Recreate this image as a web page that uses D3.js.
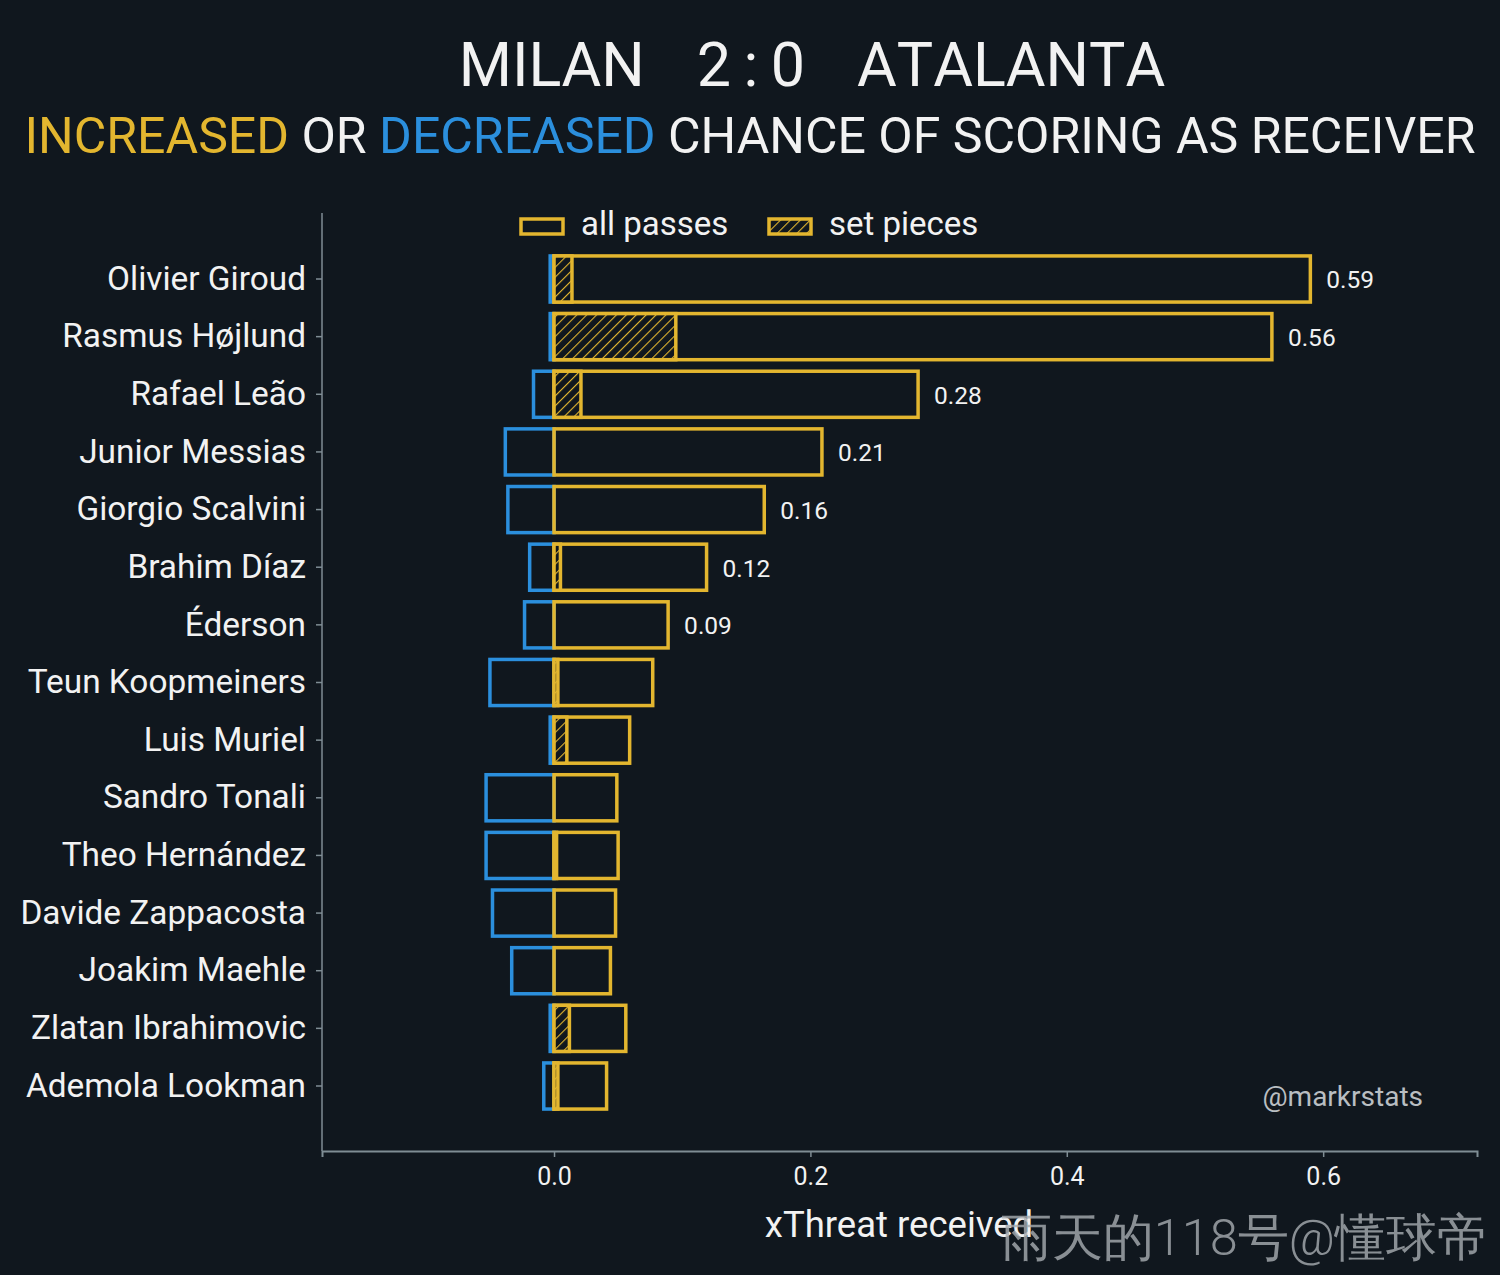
<!DOCTYPE html>
<html>
<head>
<meta charset="utf-8">
<script src="https://cdn.jsdelivr.net/npm/d3@7"></script>
<style>
  html, body { margin: 0; padding: 0; background: #10171e; }
  svg { display: block; }
  text { font-family: Roboto, "Noto Sans", sans-serif; }
</style>
</head>
<body>
<svg id="chart" width="1500" height="1275"></svg>
<script>
// ---------- data ----------
const players = [
  "Olivier Giroud", "Rasmus Højlund", "Rafael Leão", "Junior Messias",
  "Giorgio Scalvini", "Brahim Díaz", "Éderson", "Teun Koopmeiners",
  "Luis Muriel", "Sandro Tonali", "Theo Hernández", "Davide Zappacosta",
  "Joakim Maehle", "Zlatan Ibrahimovic", "Ademola Lookman"
];
const increased = [0.590, 0.560, 0.284, 0.209, 0.164, 0.119, 0.089, 0.077,
                   0.059, 0.049, 0.050, 0.048, 0.044, 0.056, 0.041];
const decreased = [-0.003, -0.003, -0.016, -0.038, -0.036, -0.019, -0.023, -0.050,
                   -0.003, -0.053, -0.053, -0.048, -0.033, -0.003, -0.008];
const setPieces = [0.014, 0.095, 0.021, 0.000, 0.000, 0.005, 0.000, 0.003,
                   0.010, 0.000, 0.002, 0.000, 0.000, 0.012, 0.003];
const xTicks = [0.0, 0.2, 0.4, 0.6];
const labelThreshold = 0.08;

// ---------- style ----------
const BG = "#10171e";
const GOLD = "#e3b62f";
const BLUE = "#2b8fdd";
const AXIS = "#7f8d94";
const WHITE = "#f2f2f2";

const svg = d3.select("#chart");
svg.append("rect").attr("width", 1500).attr("height", 1275).attr("fill", BG);

// hatch pattern
const defs = svg.append("defs");
const pat = defs.append("pattern")
  .attr("id", "hatch").attr("patternUnits", "userSpaceOnUse")
  .attr("width", 7).attr("height", 7)
  .attr("patternTransform", "rotate(45)");
pat.append("rect").attr("width", 7).attr("height", 7).attr("fill", BG);
pat.append("line").attr("x1", 0).attr("y1", 0).attr("x2", 0).attr("y2", 7)
  .attr("stroke", GOLD).attr("stroke-width", 2.2);

// ---------- scales ----------
const x = d3.scaleLinear().domain([-0.181, 0.72]).range([322, 1477]);
const step = (1086 - 279) / (players.length - 1);
const y = d3.scaleBand().domain(players)
  .range([279 - step / 2, 1086 + step / 2]).paddingInner(0.2).paddingOuter(0.1);

const rows = players.map((p, i) => ({
  name: p, pos: increased[i], neg: decreased[i], sp: setPieces[i]
}));

// ---------- axes ----------
const gy = svg.append("g").attr("transform", "translate(322,0)")
  .call(d3.axisLeft(y).tickSize(6).tickPadding(10));
gy.select(".domain").remove();
gy.selectAll(".tick line").attr("stroke", AXIS).attr("stroke-width", 1.5);
gy.selectAll(".tick text").attr("fill", WHITE).attr("font-size", 33.4)
  .attr("font-family", "Roboto").attr("dy", "0.32em");
svg.append("line").attr("x1", 322).attr("x2", 322).attr("y1", 213).attr("y2", 1151)
  .attr("stroke", AXIS).attr("stroke-width", 1.5);

const gx = svg.append("g").attr("transform", "translate(0,1151)")
  .call(d3.axisBottom(x).tickValues(xTicks).tickFormat(d3.format(".1f"))
    .tickSize(6).tickPadding(10));
gx.select(".domain").attr("stroke", AXIS).attr("stroke-width", 2);
gx.selectAll(".tick line").attr("stroke", AXIS).attr("stroke-width", 1.5);
gx.selectAll(".tick text").attr("fill", WHITE).attr("font-size", 25)
  .attr("font-family", "Roboto");

// ---------- bars ----------
const SW = 3.5;
const bars = svg.append("g");
// decreased (blue)
bars.selectAll("rect.neg").data(rows).join("rect").attr("class", "neg")
  .attr("x", d => x(d.neg)).attr("width", d => x(0) - x(d.neg))
  .attr("y", d => y(d.name)).attr("height", y.bandwidth())
  .attr("fill", "none").attr("stroke", BLUE).attr("stroke-width", SW);
// increased (gold)
bars.selectAll("rect.pos").data(rows).join("rect").attr("class", "pos")
  .attr("x", x(0)).attr("width", d => x(d.pos) - x(0))
  .attr("y", d => y(d.name)).attr("height", y.bandwidth())
  .attr("fill", "none").attr("stroke", GOLD).attr("stroke-width", SW);
// set pieces (hatched)
bars.selectAll("rect.sp").data(rows.filter(d => d.sp > 0)).join("rect").attr("class", "sp")
  .attr("x", x(0)).attr("width", d => x(d.sp) - x(0))
  .attr("y", d => y(d.name)).attr("height", y.bandwidth())
  .attr("fill", "url(#hatch)").attr("stroke", GOLD).attr("stroke-width", SW);

// value labels
svg.append("g").selectAll("text").data(rows.filter(d => d.pos >= labelThreshold)).join("text")
  .attr("x", d => x(d.pos) + 16).attr("y", d => y(d.name) + y.bandwidth() / 2)
  .attr("dy", "0.38em").attr("fill", WHITE).attr("font-size", 24.5)
  .text(d => d3.format(".2f")(d.pos));

// ---------- legend ----------
const lg = svg.append("g");
lg.append("rect").attr("x", 521).attr("y", 219).attr("width", 42).attr("height", 15)
  .attr("fill", "none").attr("stroke", GOLD).attr("stroke-width", SW);
lg.append("text").attr("x", 581).attr("y", 235).attr("fill", WHITE).attr("font-size", 33)
  .text("all passes");
lg.append("rect").attr("x", 769).attr("y", 219).attr("width", 42).attr("height", 15)
  .attr("fill", "url(#hatch)").attr("stroke", GOLD).attr("stroke-width", SW);
lg.append("text").attr("x", 829).attr("y", 235).attr("fill", WHITE).attr("font-size", 33)
  .text("set pieces");

// ---------- titles ----------
const t1 = svg.append("text").attr("x", 812).attr("y", 86).attr("text-anchor", "middle")
  .attr("fill", WHITE).attr("font-size", 61).style("font-kerning", "none");
t1.append("tspan").text("MILAN");
t1.append("tspan").attr("dx", 52).text("2\u2009:\u20090");
t1.append("tspan").attr("dx", 52).text("ATALANTA");

const t2 = svg.append("text").attr("x", 750).attr("y", 153).attr("text-anchor", "middle")
  .attr("font-size", 50);
t2.append("tspan").attr("fill", GOLD).text("INCREASED");
t2.append("tspan").attr("fill", WHITE).text(" OR ");
t2.append("tspan").attr("fill", BLUE).text("DECREASED");
t2.append("tspan").attr("fill", WHITE).text(" CHANCE OF SCORING AS RECEIVER");

// axis title
svg.append("text").attr("x", 899).attr("y", 1237).attr("text-anchor", "middle")
  .attr("fill", WHITE).attr("font-size", 36.5).text("xThreat received");

// credit
svg.append("text").attr("x", 1423).attr("y", 1106).attr("text-anchor", "end")
  .attr("fill", "#b9bec2").attr("font-size", 28).text("@markrstats");

// watermark
svg.append("text").attr("x", 1488).attr("y", 1255).attr("text-anchor", "end")
  .attr("fill", "rgba(165,170,174,0.82)").attr("font-size", 50.5).attr("font-weight", 300)
  .attr("font-family", "'Noto Sans CJK SC', sans-serif").text("雨天的118号@懂球帝");
</script>
</body>
</html>
